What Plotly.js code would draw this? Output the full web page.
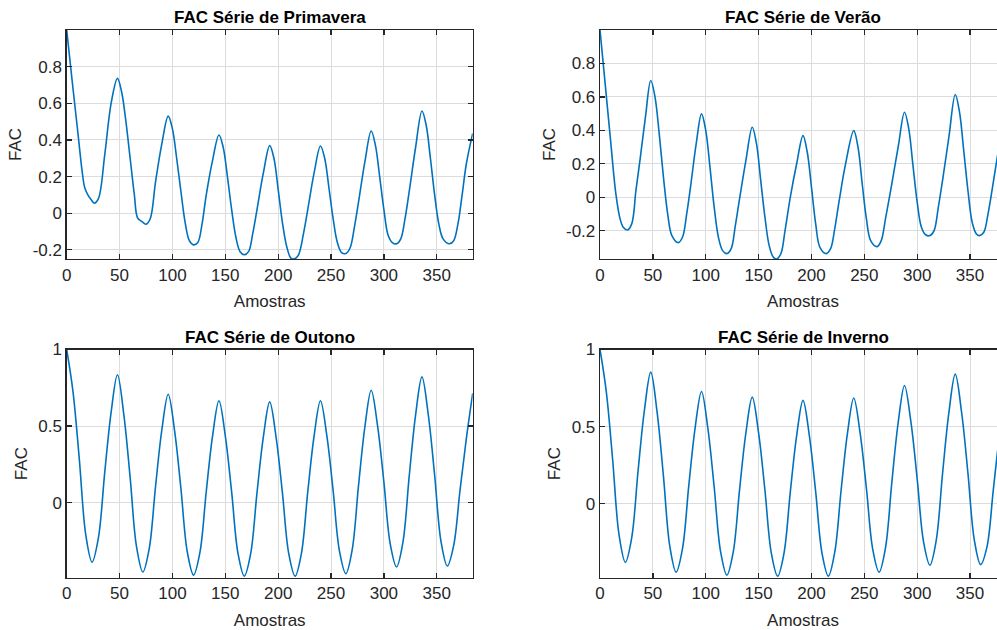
<!DOCTYPE html>
<html>
<head>
<meta charset="utf-8">
<script src="https://cdn.plot.ly/plotly-3.0.1.min.js"></script>
<style>
  html, body { margin: 0; padding: 0; overflow: hidden; background: #fff; }
  #chart { width: 1010px; height: 630px; }
</style>
</head>
<body>
<div id="chart"></div>
<script>
// ---- Data ----
const titles = ["FAC Série de Primavera", "FAC Série de Verão", "FAC Série de Outono", "FAC Série de Inverno"];
const xLabel = "Amostras";
const yLabel = "FAC";

const lagsPrimavera = [0,5,10,15,17,20,23,26,30,36,42,48,
  52,56,60,64,67,71,75,79,84,90,96,
  100,104,108,112,116,120,124,128,132,138,144,
  148,152,156,160,164,168,172,176,180,186,192,
  196,200,204,208,212,215,219,224,228,234,240,
  244,248,252,256,260,264,268,272,276,282,288,
  292,296,300,304,308,312,316,320,324,330,336,
  340,344,348,352,356,362,366,370,374,378,384];
const facPrimavera = [1.0,0.73,0.47,0.21,0.14,0.10,0.075,0.055,0.08,0.32,0.60,0.736,
  0.66,0.50,0.30,0.10,-0.025,-0.045,-0.06,-0.03,0.17,0.38,0.53,
  0.46,0.30,0.12,-0.05,-0.15,-0.173,-0.16,-0.06,0.10,0.29,0.427,
  0.36,0.20,0.02,-0.13,-0.21,-0.227,-0.21,-0.11,0.02,0.22,0.369,
  0.30,0.13,-0.05,-0.18,-0.245,-0.25,-0.23,-0.11,0.02,0.22,0.367,
  0.30,0.14,-0.03,-0.16,-0.215,-0.22,-0.19,-0.08,0.06,0.28,0.449,
  0.37,0.20,0.02,-0.12,-0.16,-0.167,-0.14,-0.03,0.12,0.36,0.558,
  0.48,0.30,0.10,-0.06,-0.14,-0.167,-0.15,-0.06,0.10,0.27,0.436];

const lagsVerao = [0,5,10,15,19,22,26,30,34,38,43,48,
  52,56,60,64,68,74,78,82,86,91,96,
  100,104,108,112,116,120,124,128,132,138,144,
  148,152,156,160,164,167,171,175,180,186,192,
  196,200,204,208,214,218,222,226,232,240,
  244,248,252,256,262,266,270,276,282,288,
  292,296,300,304,308,312,316,320,324,330,336,
  340,344,348,352,356,359,363,367,371,375,380,384];
const facVerao = [1.0,0.67,0.34,0.02,-0.13,-0.18,-0.196,-0.16,0.04,0.23,0.48,0.698,
  0.60,0.38,0.12,-0.10,-0.23,-0.272,-0.24,-0.10,0.08,0.32,0.498,
  0.40,0.18,-0.06,-0.24,-0.32,-0.338,-0.31,-0.17,-0.01,0.22,0.418,
  0.32,0.10,-0.12,-0.29,-0.36,-0.37,-0.34,-0.20,0.00,0.20,0.368,
  0.27,0.06,-0.16,-0.30,-0.338,-0.31,-0.19,-0.03,0.19,0.398,
  0.30,0.08,-0.13,-0.26,-0.296,-0.26,-0.13,0.08,0.30,0.508,
  0.41,0.19,-0.03,-0.18,-0.225,-0.23,-0.20,-0.06,0.10,0.36,0.614,
  0.51,0.28,0.04,-0.15,-0.22,-0.23,-0.21,-0.10,0.05,0.21,0.40,0.57];

const lagsOutonoInverno = [0,6,12,18,24,30,36,42,48,
  54,60,66,72,78,84,90,96,
  102,108,114,120,126,132,138,144,
  150,156,162,168,174,180,186,192,
  198,204,210,216,222,228,234,240,
  246,252,258,264,270,276,282,288,
  294,300,306,312,318,324,330,336,
  342,348,354,360,366,372,378,384];
const facOutono = [1.0,0.722,0.278,-0.208,-0.388,-0.229,0.199,0.59,0.835,
  0.577,0.165,-0.286,-0.453,-0.302,0.104,0.476,0.708,
  0.472,0.094,-0.319,-0.473,-0.325,0.073,0.437,0.665,
  0.436,0.07,-0.331,-0.48,-0.332,0.066,0.43,0.658,
  0.43,0.066,-0.332,-0.48,-0.331,0.07,0.436,0.665,
  0.439,0.078,-0.317,-0.464,-0.308,0.111,0.494,0.734,
  0.503,0.134,-0.27,-0.42,-0.259,0.176,0.573,0.821,
  0.574,0.179,-0.253,-0.414,-0.28,0.08,0.42,0.714];
const facInverno = [1.0,0.724,0.282,-0.201,-0.38,-0.22,0.212,0.606,0.853,
  0.594,0.179,-0.275,-0.444,-0.292,0.119,0.494,0.728,
  0.49,0.108,-0.309,-0.464,-0.314,0.09,0.46,0.691,
  0.459,0.087,-0.319,-0.47,-0.322,0.077,0.442,0.67,
  0.442,0.077,-0.322,-0.47,-0.316,0.084,0.454,0.685,
  0.459,0.098,-0.297,-0.444,-0.287,0.137,0.525,0.767,
  0.534,0.161,-0.247,-0.399,-0.238,0.196,0.592,0.84,
  0.593,0.198,-0.234,-0.395,-0.28,0.09,0.45,0.72];

const xTicks = [0,50,100,150,200,250,300,350];
const yTicksTop = [-0.2,0,0.2,0.4,0.6,0.8];
const yTickTextTop = ["-0.2","0","0.2","0.4","0.6","0.8"];
const yTicksBottom = [0,0.5,1];
const yTickTextBottom = ["0","0.5","1"];
const yRanges = [[-0.25,1],[-0.37,1],[-0.49,1],[-0.48,1]];

// ---- Layout geometry (pixels) ----
const W = 1010, H = 630;
const colPx = [[66.7,472.7],[600,1006]];
const rowPx = [[30,259],[349.5,577.7]];
const lineColor = '#0072BD';
const axColor = '#262626';
const font = 'Liberation Sans, Arial, Helvetica, sans-serif';

const series = [
  {x: lagsPrimavera, y: facPrimavera},
  {x: lagsVerao, y: facVerao},
  {x: lagsOutonoInverno, y: facOutono},
  {x: lagsOutonoInverno, y: facInverno}
];

const traces = series.map((s, i) => ({
  x: s.x, y: s.y, type: 'scatter', mode: 'lines',
  line: {color: lineColor, width: 1.6, shape: 'spline', smoothing: 1},
  xaxis: 'x' + (i === 0 ? '' : i + 1),
  yaxis: 'y' + (i === 0 ? '' : i + 1),
  hoverinfo: 'skip', showlegend: false
}));

const layout = {
  width: W, height: H,
  margin: {l: 0, r: 0, t: 0, b: 0},
  paper_bgcolor: '#fff', plot_bgcolor: '#fff',
  showlegend: false,
  annotations: []
};

function baseAxis() {
  return {
    showline: true, linecolor: axColor, linewidth: 1.3, mirror: 'ticks',
    ticks: 'inside', ticklen: 5, tickwidth: 1.3, tickcolor: axColor,
    showgrid: true, gridcolor: '#dcdcdc', gridwidth: 1, zeroline: false,
    tickfont: {family: font, size: 17, color: axColor},
    fixedrange: true
  };
}

for (let i = 0; i < 4; i++) {
  const c = i % 2, r = Math.floor(i / 2);
  const sfx = i === 0 ? '' : String(i + 1);
  const xd = [colPx[c][0] / W, colPx[c][1] / W];
  const yd = [1 - rowPx[r][1] / H, 1 - rowPx[r][0] / H];
  layout['xaxis' + sfx] = Object.assign(baseAxis(), {
    domain: xd, range: [0, 384], tickvals: xTicks,
    anchor: 'y' + sfx,
    title: {text: xLabel, font: {family: font, size: 17, color: axColor}, standoff: 11}
  });
  layout['yaxis' + sfx] = Object.assign(baseAxis(), {
    domain: yd, range: yRanges[i],
    tickvals: r === 0 ? yTicksTop : yTicksBottom,
    ticktext: r === 0 ? yTickTextTop : yTickTextBottom,
    anchor: 'x' + sfx,
    title: {text: yLabel, font: {family: font, size: 17, color: axColor}, standoff: 6}
  });
  layout.annotations.push({
    text: '<b>' + titles[i] + '</b>',
    xref: 'paper', yref: 'paper',
    x: (xd[0] + xd[1]) / 2, y: yd[1],
    xanchor: 'center', yanchor: 'bottom', yshift: 1,
    showarrow: false,
    font: {family: font, size: 17, color: '#000'}
  });
}

Plotly.newPlot('chart', traces, layout, {displayModeBar: false, staticPlot: true});
</script>
</body>
</html>
